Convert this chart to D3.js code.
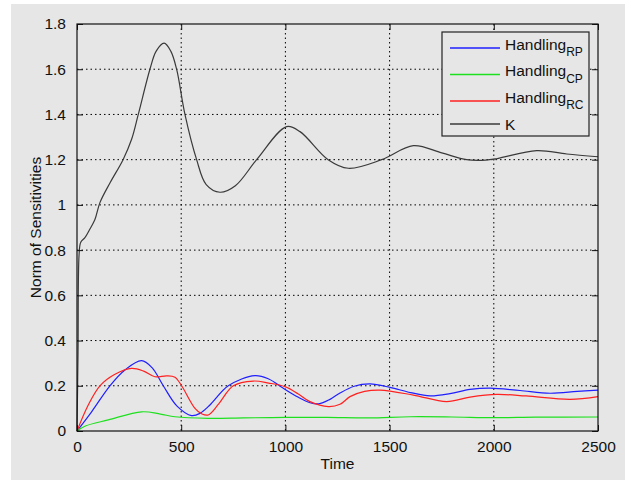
<!DOCTYPE html>
<html>
<head>
<meta charset="utf-8">
<script src="https://d3js.org/d3.v7.min.js"></script>
<style>
  body { margin: 0; background: #fff; }
  text { font-family: "Liberation Sans", Arial, Helvetica, sans-serif; fill: #111; }
</style>
</head>
<body>
<script>
// series (time, value)
var kTime = [0, 5, 10, 18, 38, 60, 86, 110, 160, 221, 262, 294, 350, 380, 418, 450, 478, 518, 574, 620, 686, 760, 862, 1006, 1070, 1205, 1302, 1462, 1614, 1750, 1870, 1960, 2017, 2206, 2350, 2500];
var kVals = [0, 0.35, 0.78, 0.835, 0.855, 0.89, 0.935, 1.01, 1.1, 1.2, 1.29, 1.4, 1.6, 1.68, 1.715, 1.68, 1.6, 1.4, 1.2, 1.09, 1.056, 1.085, 1.2, 1.346, 1.324, 1.2, 1.162, 1.2, 1.262, 1.23, 1.2, 1.198, 1.205, 1.24, 1.225, 1.213];

var rpTime = [0, 70, 158, 230, 310, 360, 414, 480, 550, 590, 638, 726, 854, 920, 990, 1060, 1118, 1160, 1214, 1262, 1330, 1406, 1502, 1600, 1694, 1790, 1886, 1982, 2126, 2270, 2400, 2500];
var rpVals = [0, 0.085, 0.2, 0.27, 0.311, 0.28, 0.2, 0.11, 0.068, 0.078, 0.115, 0.2, 0.245, 0.23, 0.189, 0.15, 0.125, 0.12, 0.14, 0.168, 0.198, 0.208, 0.193, 0.17, 0.155, 0.165, 0.184, 0.19, 0.179, 0.167, 0.175, 0.181];

var rcTime = [0, 54, 110, 180, 262, 320, 374, 430, 470, 502, 566, 600, 630, 680, 750, 846, 920, 998, 1060, 1118, 1206, 1262, 1310, 1380, 1454, 1614, 1774, 1886, 2014, 2155, 2366, 2500];
var rcVals = [0, 0.115, 0.2, 0.25, 0.277, 0.265, 0.24, 0.244, 0.238, 0.2, 0.1, 0.075, 0.071, 0.12, 0.2, 0.221, 0.212, 0.196, 0.165, 0.13, 0.108, 0.118, 0.152, 0.175, 0.181, 0.159, 0.13, 0.15, 0.162, 0.155, 0.14, 0.152];

var cpTime = [0, 40, 150, 310, 400, 470, 630, 800, 1000, 1200, 1400, 1600, 1800, 2000, 2200, 2500];
var cpVals = [0, 0.022, 0.049, 0.085, 0.075, 0.063, 0.056, 0.058, 0.06, 0.06, 0.058, 0.063, 0.062, 0.059, 0.061, 0.062];

var xTicks = [0, 500, 1000, 1500, 2000, 2500];
var yTicks = [0, 0.2, 0.4, 0.6, 0.8, 1, 1.2, 1.4, 1.6, 1.8];

var series = [
  {name: "Handling", sub: "RP", color: "#1f1fff", t: rpTime, v: rpVals},
  {name: "Handling", sub: "CP", color: "#1ee01e", t: cpTime, v: cpVals},
  {name: "Handling", sub: "RC", color: "#ff2020", t: rcTime, v: rcVals},
  {name: "K", sub: "", color: "#3a3a3a", t: kTime, v: kVals}
];

var width = 627, height = 480;
var margin = {left: 77, top: 24, right: 29, bottom: 49};
var pw = width - margin.left - margin.right,
    ph = height - margin.top - margin.bottom;

var svg = d3.select("body").append("svg")
    .attr("width", width)
    .attr("height", height);

svg.append("rect")
    .attr("x", 11).attr("y", 4)
    .attr("width", width - 13).attr("height", height - 4)
    .attr("fill", "#e6e6e6");

var x = d3.scaleLinear().domain([0, 2500]).range([0, pw]);
var y = d3.scaleLinear().domain([0, 1.8]).range([ph, 0]);

var g = svg.append("g").attr("transform", "translate(" + margin.left + "," + margin.top + ")");

// dotted grid
g.append("g").selectAll("line")
    .data(xTicks.slice(1, -1))
    .enter().append("line")
    .attr("x1", d => x(d)).attr("x2", d => x(d))
    .attr("y1", 0).attr("y2", ph)
    .attr("stroke", "#000").attr("stroke-dasharray", "1.5,3");
g.append("g").selectAll("line")
    .data(yTicks.slice(1, -1))
    .enter().append("line")
    .attr("y1", d => y(d)).attr("y2", d => y(d))
    .attr("x1", 0).attr("x2", pw)
    .attr("stroke", "#000").attr("stroke-dasharray", "1.5,3");

// lines
var line = d3.line()
    .x(d => x(d[0]))
    .y(d => y(d[1]))
    .curve(d3.curveCatmullRom.alpha(0.5));

series.forEach(function(s) {
  g.append("path")
      .datum(d3.zip(s.t, s.v))
      .attr("fill", "none")
      .attr("stroke", s.color)
      .attr("stroke-width", 1.2)
      .attr("d", line);
});

// axes, ticks inward on all four sides
var tk = 6;
var axBottom = g.append("g").attr("transform", "translate(0," + ph + ")")
    .call(d3.axisBottom(x).tickValues(xTicks).tickSizeInner(-tk).tickSizeOuter(0).tickPadding(10).tickFormat(d3.format("d")));
var axLeft = g.append("g")
    .call(d3.axisLeft(y).tickValues(yTicks).tickSizeInner(-tk).tickSizeOuter(0).tickPadding(11).tickFormat(d => String(+d.toFixed(1))));
var axTop = g.append("g")
    .call(d3.axisTop(x).tickValues(xTicks).tickSizeInner(-tk).tickSizeOuter(0).tickFormat(""));
var axRight = g.append("g").attr("transform", "translate(" + pw + ",0)")
    .call(d3.axisRight(y).tickValues(yTicks).tickSizeInner(-tk).tickSizeOuter(0).tickFormat(""));

[axBottom, axLeft, axTop, axRight].forEach(function(a) {
  a.select(".domain").remove();
  a.selectAll("line").attr("stroke", "#111");
  a.selectAll("text").style("font-size", "15.5px").attr("fill", "#111");
});

g.append("rect")
    .attr("width", pw).attr("height", ph)
    .attr("fill", "none").attr("stroke", "#111").attr("stroke-width", 1.2);

// axis titles
svg.append("text")
    .attr("x", margin.left + pw / 2).attr("y", 469)
    .attr("text-anchor", "middle")
    .style("font-size", "15.5px")
    .text("Time");
svg.append("text")
    .attr("transform", "translate(41," + (margin.top + ph / 2) + ") rotate(-90)")
    .attr("text-anchor", "middle")
    .style("font-size", "15.5px")
    .text("Norm of Sensitivities");

// legend
var leg = svg.append("g");
leg.append("rect")
    .attr("x", 442).attr("y", 32)
    .attr("width", 147).attr("height", 104)
    .attr("fill", "#e6e6e6").attr("stroke", "#222").attr("stroke-width", 1.2);

series.forEach(function(s, i) {
  var ly = i < 3 ? 48 + i * 26.5 : 124;
  leg.append("line")
      .attr("x1", 450).attr("x2", 500)
      .attr("y1", ly).attr("y2", ly)
      .attr("stroke", s.color).attr("stroke-width", 1.4);
  var t = leg.append("text")
      .attr("x", 505).attr("y", s.sub ? ly + 1.5 : ly + 5.5)
      .style("font-size", "15.5px");
  t.append("tspan").text(s.name);
  if (s.sub) {
    t.append("tspan").attr("dy", 6.5).style("font-size", "12px").text(s.sub);
  }
});
</script>
</body>
</html>
